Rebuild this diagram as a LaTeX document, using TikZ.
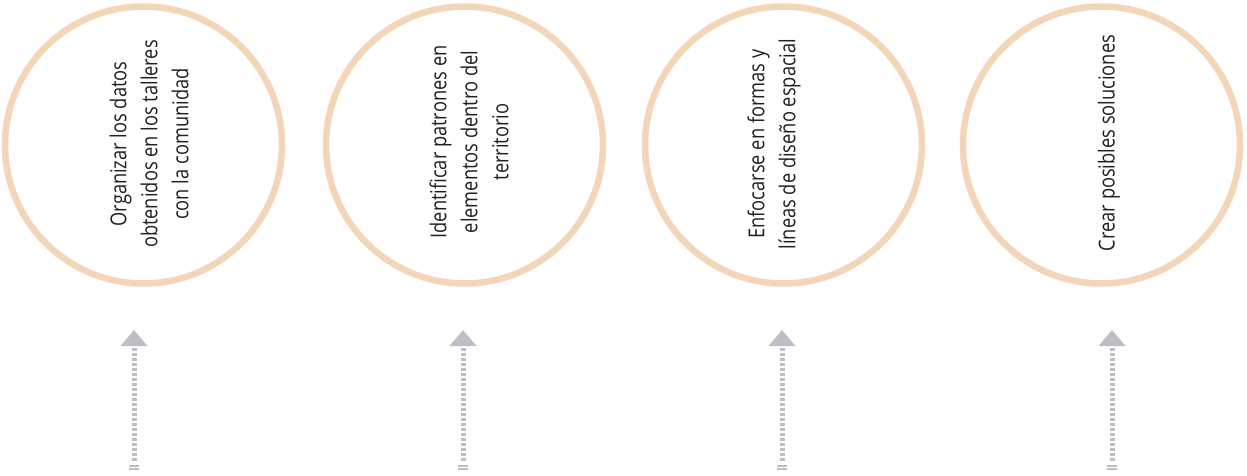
\documentclass[tikz,border=0pt]{standalone}
\usepackage{fontspec}
\setmainfont{Open Sans}[FakeStretch=0.83]
\usetikzlibrary{arrows.meta}
\definecolor{peach}{RGB}{243,213,183}
\definecolor{arrowgray}{RGB}{190,191,198}
\definecolor{txt}{RGB}{35,31,32}
\begin{document}
\begin{tikzpicture}[x=1pt,y=-1pt,
  stage/.style={circle, draw=peach, line width=6.5pt, minimum size=277pt, inner sep=0pt},
  steptext/.style={rotate=90, align=center, font=\fontsize{22}{31}\selectfont, text=txt, inner sep=0pt},
  flow/.style={draw=arrowgray, line width=5pt, dash pattern=on 3pt off 2pt,
    -{Triangle[width=26pt,length=16pt,fill=arrowgray]}},
  bar/.style={draw=arrowgray, line width=1.5pt}]
\useasboundingbox (0,0) rectangle (1247,476);

\node[stage] (c1) at (143.5,145) {};
\node[stage] (c2) at (464.5,145) {};
\node[stage] (c3) at (783.5,145) {};
\node[stage] (c4) at (1101.5,145) {};

\node[steptext] (t1) at (149,144) {Organizar los datos\\obtenidos en los talleres\\con la comunidad};
\node[steptext] (t2) at (469,142) {Identificar patrones en\\elementos dentro del\\territorio};
\node[steptext] (t3) at (774,144) {Enfocarse en formas y\\líneas de diseño espacial};
\node[steptext] (t4) at (1109,143) {Crear posibles soluciones};

\foreach \i/\x in {1/134,2/463,3/782,4/1112}{
  \coordinate (s\i) at (\x,461);
  \coordinate (e\i) at (\x,330);
  \coordinate (b\i) at (\x,467.5);
  \draw[flow] (s\i) -- (e\i);
  \draw[bar] (b\i) ++(-5,-1.6) -- ++(10,0) ++(-10,3.2) -- ++(10,0);
}
\end{tikzpicture}
\end{document}
